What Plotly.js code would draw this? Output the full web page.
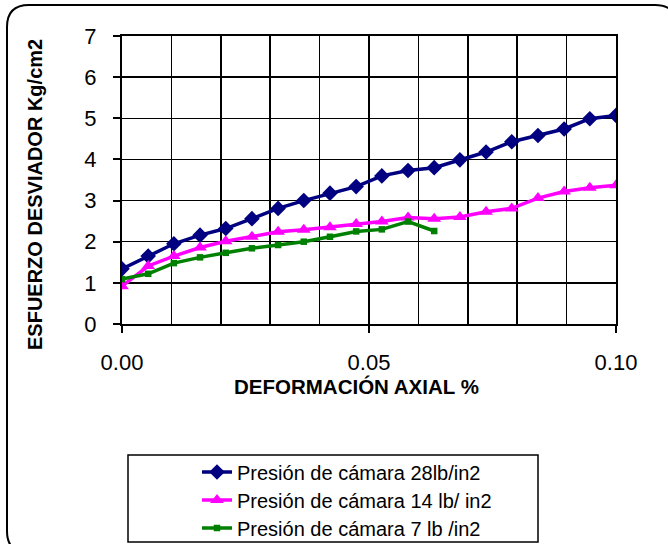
<!DOCTYPE html>
<html>
<head>
<meta charset="utf-8">
<script src="https://cdn.plot.ly/plotly-3.0.1.min.js"></script>
<style>html,body{margin:0;padding:0;background:#fff;}#chart{width:668px;height:544px;}</style>
</head>
<body>
<div id="chart"></div>
<script>
// Data
const x28 = [0, 0.0053, 0.0105, 0.0158, 0.021, 0.0263, 0.0316, 0.0368, 0.0421, 0.0474, 0.0526, 0.0579, 0.0632, 0.0684, 0.0737, 0.0789, 0.0842, 0.0895, 0.0947, 0.1];
const y28 = [1.34, 1.65, 1.95, 2.16, 2.32, 2.56, 2.81, 3.0, 3.18, 3.34, 3.6, 3.73, 3.8, 3.99, 4.18, 4.43, 4.58, 4.74, 4.99, 5.07];
const x14 = [0, 0.0053, 0.0105, 0.0158, 0.021, 0.0263, 0.0316, 0.0368, 0.0421, 0.0474, 0.0526, 0.0579, 0.0632, 0.0684, 0.0737, 0.0789, 0.0842, 0.0895, 0.0947, 0.1];
const y14 = [0.92, 1.41, 1.65, 1.86, 2.01, 2.12, 2.24, 2.29, 2.35, 2.43, 2.49, 2.59, 2.56, 2.6, 2.73, 2.81, 3.06, 3.22, 3.31, 3.37];
const x7 = [0, 0.0053, 0.0105, 0.0158, 0.021, 0.0263, 0.0316, 0.0368, 0.0421, 0.0474, 0.0526, 0.0579, 0.0632];
const y7 = [1.09, 1.22, 1.48, 1.62, 1.73, 1.84, 1.92, 2.0, 2.12, 2.25, 2.3, 2.49, 2.26];
const names = ['Presión de cámara 28lb/in2', 'Presión de cámara 14 lb/ in2', 'Presión de cámara 7 lb /in2'];
const xTickVals = [0, 0.05, 0.1];
const xTickText = ['0.00', '0.05', '0.10'];
const yTickVals = [0, 1, 2, 3, 4, 5, 6, 7];
const xTitle = 'DEFORMACIÓN AXIAL %';
const yTitle = 'ESFUERZO DESVIADOR Kg/cm2';

// Pixel geometry helpers
const L = 122, R = 616, T = 36, B = 324;
const px = v => (v - L) / (R - L);
const py = v => (B - v) / (B - T);

function roundedRect(x0, y0, x1, y1, r) {
  const p = (X, Y) => px(X) + ',' + py(Y);
  return 'M' + p(x0 + r, y0) + ' L' + p(x1 - r, y0) + ' Q' + p(x1, y0) + ' ' + p(x1, y0 + r) +
    ' L' + p(x1, y1 - r) + ' Q' + p(x1, y1) + ' ' + p(x1 - r, y1) +
    ' L' + p(x0 + r, y1) + ' Q' + p(x0, y1) + ' ' + p(x0, y1 - r) +
    ' L' + p(x0, y0 + r) + ' Q' + p(x0, y0) + ' ' + p(x0 + r, y0) + ' Z';
}

const traces = [
  {x: x28, y: y28, name: names[0], mode: 'lines+markers', legend: 'legend',
   line: {color: '#000080', width: 3.5}, marker: {symbol: 'diamond', size: 12, color: '#000080'}},
  {x: x14, y: y14, name: names[1], mode: 'lines+markers', legend: 'legend2',
   line: {color: '#FF00FF', width: 3.5}, marker: {symbol: 'triangle-up', size: 12, color: '#FF00FF'}},
  {x: x7, y: y7, name: names[2], mode: 'lines+markers', legend: 'legend3',
   line: {color: '#008000', width: 3.5}, marker: {symbol: 'square', size: 6.5, color: '#008000'}}
];

function leg(yc) {
  return {x: px(197), y: py(yc), xanchor: 'left', yanchor: 'middle',
          font: {size: 20, color: '#000'}, bgcolor: 'rgba(0,0,0,0)', borderwidth: 0, itemwidth: 30};
}

const layout = {
  width: 668, height: 544,
  margin: {l: L, r: 668 - R, t: T, b: 544 - B, pad: 0, autoexpand: false},
  paper_bgcolor: '#fff', plot_bgcolor: '#fff',
  font: {family: 'Arial, Liberation Sans, sans-serif', color: '#000'},
  showlegend: true,
  legend: leg(472), legend2: leg(500), legend3: leg(528),
  xaxis: {range: [0, 0.1], tickvals: xTickVals, ticktext: xTickText, ticks: 'outside', ticklen: 7,
          tickwidth: 2, tickcolor: '#000', showgrid: true, gridcolor: '#000', gridwidth: 1.5,
          minor: {dtick: 0.01, showgrid: true, gridcolor: '#000', gridwidth: 1.5},
          showline: true, linecolor: '#000', linewidth: 2, mirror: true, zeroline: false,
          tickfont: {size: 22}, ticklabelstandoff: 11, fixedrange: true},
  yaxis: {range: [0, 7], tickvals: yTickVals, ticks: 'outside', ticklen: 7, tickwidth: 2,
          tickcolor: '#000', showgrid: true, gridcolor: '#000', gridwidth: 1.5,
          showline: true, linecolor: '#000', linewidth: 2, mirror: true, zeroline: false,
          tickfont: {size: 22}, ticklabelstandoff: 12, fixedrange: true},
  annotations: [
    {xref: 'paper', yref: 'paper', x: px(356), y: py(386), text: '<b>' + xTitle + '</b>',
     showarrow: false, xanchor: 'center', yanchor: 'middle', font: {size: 20.5}},
    {xref: 'paper', yref: 'paper', x: px(35), y: py(195), text: '<b>' + yTitle + '</b>',
     showarrow: false, xanchor: 'center', yanchor: 'middle', textangle: -90, font: {size: 20}}
  ],
  shapes: [
    {type: 'rect', xref: 'paper', yref: 'paper', x0: px(128), x1: px(538), y0: py(455), y1: py(542),
     line: {color: '#000', width: 1.5}, fillcolor: 'rgba(0,0,0,0)', layer: 'above'},
    {type: 'path', xref: 'paper', yref: 'paper', path: roundedRect(7, 5, 677, 553, 22),
     line: {color: '#000', width: 2}, fillcolor: 'rgba(0,0,0,0)', layer: 'above'}
  ]
};

Plotly.newPlot('chart', traces, layout, {displayModeBar: false, staticPlot: true});
</script>
</body>
</html>
